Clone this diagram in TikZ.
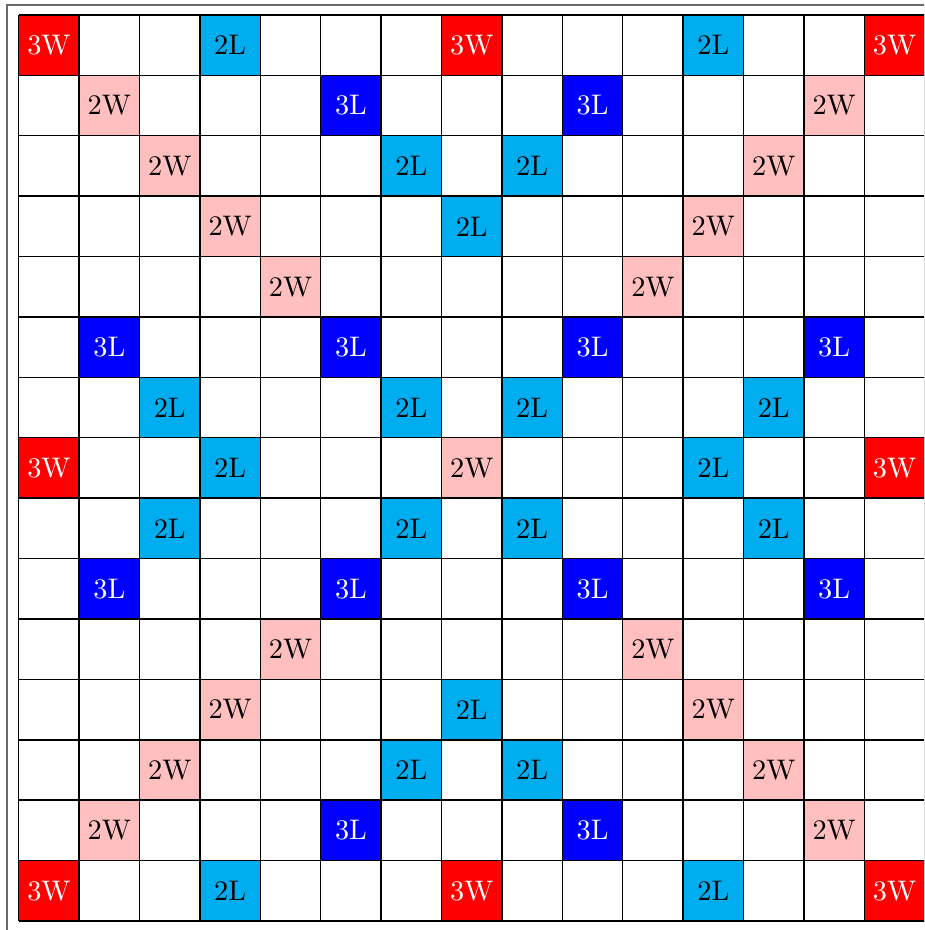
\documentclass[tikz,border=0pt]{standalone}
\usepackage{tikz}
\usetikzlibrary{positioning}
\definecolor{tripword}{RGB}{255, 0, 0}
\definecolor{dblword}{RGB}{255, 191, 191}
\definecolor{tripletter}{RGB}{0, 0, 255}
\definecolor{dblletter}{RGB}{0, 174, 239}
\definecolor{framegray}{RGB}{105, 105, 105}

\tikzset{
  premium/.style={minimum size=0.75cm, inner sep=0pt, outer sep=0pt},
  trword/.style={premium, fill=tripword, text=white},
  dbword/.style={premium, fill=dblword, text=black},
  trletter/.style={premium, fill=tripletter, text=white},
  dbletter/.style={premium, fill=dblletter, text=black}
}

\begin{document}
\begin{tikzpicture}[x=0.75cm, y=0.75cm]
  \useasboundingbox (-0.31,-0.149) rectangle (14.99,15.248);
  \clip (-0.31,-0.149) rectangle (14.99,15.248);

  % 外框
  \draw[framegray, line width=0.7pt] (-0.192,-0.166) rectangle (15.182,15.166);

  % 3W
  \foreach \c/\r in {0/0,7/0,14/0,0/7,14/7,0/14,7/14,14/14}
    \node[trword] (tw-\c-\r) at (\c+0.5,14.5-\r) {3W};

  % 2W
  \foreach \c/\r in {1/1,13/1,2/2,12/2,3/3,11/3,4/4,10/4,7/7,
                     4/10,10/10,3/11,11/11,2/12,12/12,1/13,13/13}
    \node[dbword] (dw-\c-\r) at (\c+0.5,14.5-\r) {2W};

  % 3L
  \foreach \c/\r in {5/1,9/1,1/5,5/5,9/5,13/5,1/9,5/9,9/9,13/9,5/13,9/13}
    \node[trletter] (tl-\c-\r) at (\c+0.5,14.5-\r) {3L};

  % 2L
  \foreach \c/\r in {3/0,11/0,6/2,8/2,7/3,2/6,6/6,8/6,12/6,3/7,11/7,
                     2/8,6/8,8/8,12/8,7/11,6/12,8/12,3/14,11/14}
    \node[dbletter] (dl-\c-\r) at (\c+0.5,14.5-\r) {2L};

  % 棋盘格线
  \draw[black, line width=0.5pt, step=0.75cm] (0,0) grid (15,15);
\end{tikzpicture}
\end{document}
